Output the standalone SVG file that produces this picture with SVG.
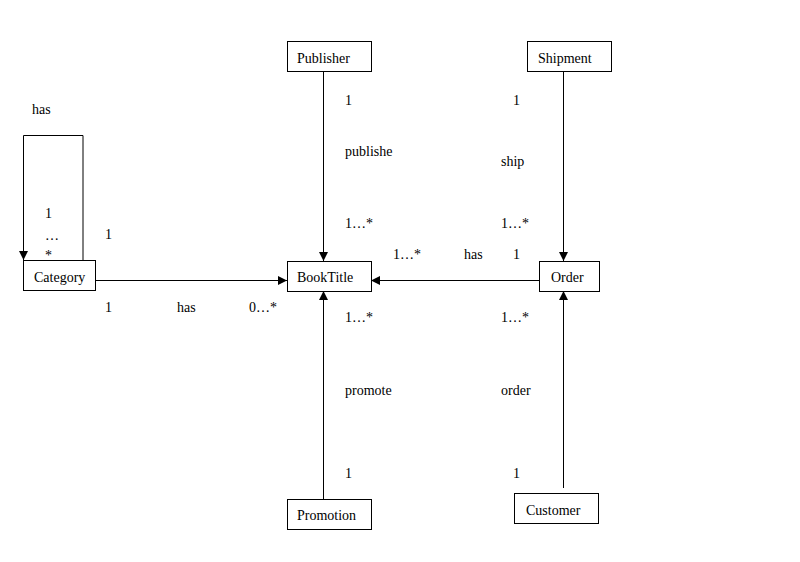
<svg xmlns="http://www.w3.org/2000/svg" width="800" height="562" viewBox="0 0 800 562">
  <style>
    .box { fill: #fff; stroke: #000; stroke-width: 1; }
    .line { fill: none; stroke: #000; stroke-width: 1; }
    text { font-family: "Liberation Serif", "Times New Roman", serif; font-size: 14px; fill: #000; }
  </style>
  <defs>
    <marker id="arrow" viewBox="0 0 10 10" refX="10" refY="5" markerWidth="9" markerHeight="9" markerUnits="userSpaceOnUse" orient="auto">
      <path d="M0,0 L10,5 L0,10 z" fill="#000"/>
    </marker>
  </defs>
  <rect width="800" height="562" fill="#fff"/>

  <!-- associations -->
  <g id="connectors">
    <path class="line" d="M83,260 V135.5 H23.5 V260" marker-end="url(#arrow)"/>
    <path class="line" d="M96,280.5 H287" marker-end="url(#arrow)"/>
    <path class="line" d="M323.5,72 V261" marker-end="url(#arrow)"/>
    <path class="line" d="M563.5,72 V261" marker-end="url(#arrow)"/>
    <path class="line" d="M539,280.5 H371" marker-end="url(#arrow)"/>
    <path class="line" d="M323.5,499 V291" marker-end="url(#arrow)"/>
    <path class="line" d="M563.5,488 V291" marker-end="url(#arrow)"/>
  </g>

  <g id="labels">
    <text x="32" y="114">has</text>
    <text x="45" y="218">1</text>
    <text x="45" y="240">…</text>
    <text x="45" y="260">*</text>
    <text x="105" y="239">1</text>
    <text x="105" y="312">1</text>
    <text x="177" y="312">has</text>
    <text x="249" y="312">0…*</text>

    <text x="345" y="105">1</text>
    <text x="345" y="156">publishe</text>
    <text x="345" y="228">1…*</text>
    <text x="345" y="322">1…*</text>
    <text x="345" y="395">promote</text>
    <text x="345" y="478">1</text>

    <text x="393" y="259">1…*</text>
    <text x="464" y="259">has</text>
    <text x="513" y="259">1</text>

    <text x="513" y="105">1</text>
    <text x="501" y="166">ship</text>
    <text x="501" y="228">1…*</text>
    <text x="501" y="322">1…*</text>
    <text x="501" y="395">order</text>
    <text x="513" y="478">1</text>
  </g>

  <g id="Category">
    <rect class="box" x="23.5" y="260.5" width="72" height="30"/>
    <text x="34" y="282">Category</text>
  </g>
  <g id="Publisher">
    <rect class="box" x="287.5" y="41.5" width="84" height="30"/>
    <text x="297" y="63">Publisher</text>
  </g>
  <g id="Shipment">
    <rect class="box" x="527.5" y="41.5" width="84" height="30"/>
    <text x="538" y="63">Shipment</text>
  </g>
  <g id="BookTitle">
    <rect class="box" x="287.5" y="261.5" width="84" height="30"/>
    <text x="297" y="282">BookTitle</text>
  </g>
  <g id="Order">
    <rect class="box" x="539.5" y="261.5" width="60" height="30"/>
    <text x="551" y="282">Order</text>
  </g>
  <g id="Promotion">
    <rect class="box" x="287.5" y="499.5" width="84" height="30"/>
    <text x="297" y="520">Promotion</text>
  </g>
  <g id="Customer">
    <rect class="box" x="514.5" y="493.5" width="84" height="30"/>
    <text x="526" y="515">Customer</text>
  </g>
</svg>
